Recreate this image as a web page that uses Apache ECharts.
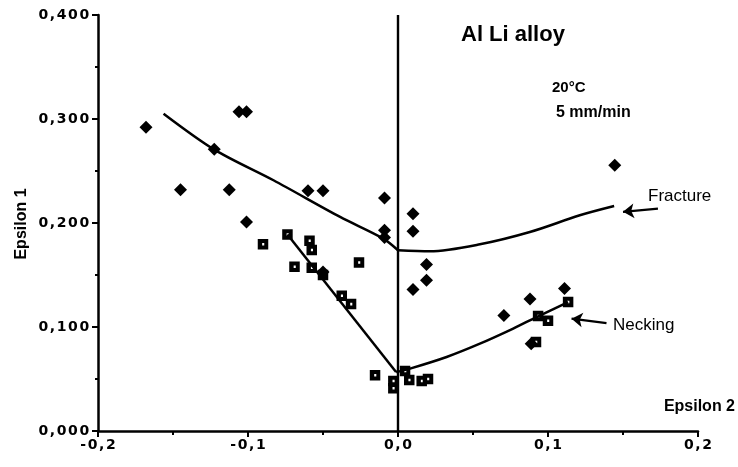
<!DOCTYPE html>
<html>
<head>
<meta charset="utf-8">
<script src="https://cdn.jsdelivr.net/npm/echarts@6/dist/echarts.min.js"></script>
<style>
html,body{margin:0;padding:0;background:#fff;}
#chart{width:738px;height:467px;}
</style>
</head>
<body>
<div id="chart"></div>
<script>
// ---- data (Epsilon 2, Epsilon 1) ----
var fracturePoints = [
  [-0.168, 0.292], [-0.145, 0.232], [-0.1225, 0.271], [-0.1125, 0.232],
  [-0.106, 0.307], [-0.101, 0.307], [-0.101, 0.201], [-0.060, 0.231],
  [-0.050, 0.231], [-0.050, 0.153], [-0.009, 0.224], [-0.009, 0.193],
  [-0.009, 0.186], [0.010, 0.209], [0.010, 0.192], [0.019, 0.160],
  [0.019, 0.145], [0.010, 0.136], [0.0706, 0.111], [0.088, 0.127],
  [0.111, 0.137], [0.1445, 0.2555], [0.0888, 0.084]
];
var neckingPoints = [
  [-0.090, 0.1795], [-0.0737, 0.189], [-0.069, 0.158], [-0.059, 0.183],
  [-0.0575, 0.174], [-0.0575, 0.157], [-0.050, 0.150], [-0.0375, 0.130],
  [-0.0313, 0.122], [-0.026, 0.162], [-0.0153, 0.0536], [-0.0031, 0.048],
  [-0.0031, 0.041], [0.0047, 0.0577], [0.0075, 0.049], [0.0158, 0.048],
  [0.020, 0.050], [0.092, 0.0856], [0.0934, 0.1106], [0.100, 0.106],
  [0.1134, 0.124]
];
var fractureCurveLeft = [
  [-0.1563, 0.3051], [-0.1225, 0.2706], [-0.0830, 0.2411],
  [-0.0386, 0.2058], [-0.0098, 0.1850], [0.0, 0.1738]
];
var fractureCurveRight = [
  [0.0, 0.1738], [0.0213, 0.1728], [0.0546, 0.1795],
  [0.0879, 0.1913], [0.1212, 0.2074], [0.1441, 0.2163]
];
var neckingCurveLeft = [[-0.0737, 0.189], [-0.0013, 0.0567]];
var neckingCurveRight = [
  [-0.0013, 0.0567], [0.008, 0.060], [0.0324, 0.0712], [0.0546, 0.084],
  [0.0768, 0.0985], [0.0924, 0.1096], [0.1134, 0.124]
];
var fractureArrow = [[0.1733, 0.2138], [0.150, 0.2107]];
var neckingArrow = [[0.139, 0.1038], [0.1157, 0.108]];
var xTicks = {min: -0.2, max: 0.2, interval: 0.1};
var yTicks = {min: 0, max: 0.4, interval: 0.1};

var chart = echarts.init(document.getElementById('chart'), null, {renderer: 'canvas'});
var FONT = '"Liberation Sans", Arial, Helvetica, sans-serif';
var squareHole = 'path://M0,0H10V10H0Z M4.2,3.8V6.2H6.2V3.8Z';

// letter-spaced label through rich text segments
function spacedRich(s){
  return s.split('').map(function (c) { return '{c|' + c + '}'; }).join('');
}
var labelRich = {
  c: {fontFamily: '"DejaVu Sans", sans-serif', fontWeight: 'bold', fontSize: 14, color: '#000', padding: [0, 0.8]}
};

var lineStyleCurve = {color: '#000', width: 2.5};

var option = {
  animation: false,
  backgroundColor: '#fff',
  grid: {left: 98, right: 40, top: 15, bottom: 36},
  xAxis: {
    type: 'value', min: xTicks.min, max: xTicks.max, interval: xTicks.interval,
    axisLine: {show: true, onZero: false, lineStyle: {color: '#000', width: 2.5}},
    axisTick: {show: true, length: 6, lineStyle: {color: '#000', width: 2}},
    minorTick: {show: true, splitNumber: 2, length: 4, lineStyle: {color: '#000', width: 2}},
    splitLine: {show: false},
    axisLabel: {
      margin: 7, color: '#000', rich: labelRich,
      formatter: function (v) {
        var s = Math.abs(v) < 1e-9 ? '0,0' : v.toFixed(1).replace('.', ',');
        return spacedRich(s);
      }
    }
  },
  yAxis: {
    type: 'value', min: yTicks.min, max: yTicks.max, interval: yTicks.interval,
    axisLine: {show: true, onZero: false, lineStyle: {color: '#000', width: 2.5}},
    axisTick: {show: true, length: 6, lineStyle: {color: '#000', width: 2}},
    minorTick: {show: true, splitNumber: 2, length: 3, lineStyle: {color: '#000', width: 2}},
    splitLine: {show: false},
    axisLabel: {
      margin: 8, color: '#000', rich: labelRich,
      formatter: function (v) {
        return spacedRich(v.toFixed(3).replace('.', ','));
      }
    }
  },
  series: [
    {
      type: 'line', data: fractureCurveLeft, smooth: 0.3, showSymbol: false, symbol: 'none',
      lineStyle: lineStyleCurve, silent: true, z: 2,
      markLine: {
        silent: true, symbol: ['none', 'none'], label: {show: false},
        lineStyle: {color: '#000', width: 2.4, type: 'solid'},
        data: [{xAxis: 0}]
      }
    },
    {type: 'line', data: fractureCurveRight, smooth: 0.3, showSymbol: false, symbol: 'none', lineStyle: lineStyleCurve, silent: true, z: 2},
    {type: 'line', data: neckingCurveLeft, smooth: false, showSymbol: false, symbol: 'none', lineStyle: lineStyleCurve, silent: true, z: 2},
    {
      type: 'line', data: neckingCurveRight, smooth: 0.3, showSymbol: false, symbol: 'none',
      lineStyle: lineStyleCurve, silent: true, z: 2,
      markLine: {
        silent: true, symbol: ['none', 'arrow'], symbolSize: 11, label: {show: false},
        lineStyle: {color: '#000', width: 2.2, type: 'solid'},
        itemStyle: {color: '#000'},
        data: [
          [{coord: fractureArrow[0]}, {coord: fractureArrow[1]}],
          [{coord: neckingArrow[0]}, {coord: neckingArrow[1]}]
        ]
      }
    },
    {
      type: 'scatter', data: neckingPoints, symbol: squareHole, symbolSize: 10.5,
      itemStyle: {color: '#000', opacity: 1}, z: 3
    },
    {
      type: 'scatter', data: fracturePoints, symbol: 'diamond', symbolSize: [13, 13],
      itemStyle: {color: '#000', opacity: 1}, z: 4
    }
  ],
  graphic: [
    {type: 'text', left: 461, top: 24, style: {text: 'Al Li alloy', font: 'bold 22px ' + FONT, fill: '#000'}},
    {type: 'text', left: 552, top: 80, style: {text: '20°C', font: 'bold 15px ' + FONT, fill: '#000'}},
    {type: 'text', left: 556, top: 105, style: {text: '5 mm/min', font: 'bold 16px ' + FONT, fill: '#000'}},
    {type: 'text', left: 648, top: 188, style: {text: 'Fracture', font: '17px ' + FONT, fill: '#000'}},
    {type: 'text', left: 613, top: 317, style: {text: 'Necking', font: '17px ' + FONT, fill: '#000'}},
    {type: 'text', right: 3, top: 399, style: {text: 'Epsilon 2', font: 'bold 16px ' + FONT, fill: '#000'}},
    {type: 'text', x: 22, y: 224, rotation: Math.PI / 2,
      style: {text: 'Epsilon 1', font: 'bold 16px ' + FONT, fill: '#000', align: 'center', verticalAlign: 'middle'}}
  ]
};
chart.setOption(option);
</script>
</body>
</html>
